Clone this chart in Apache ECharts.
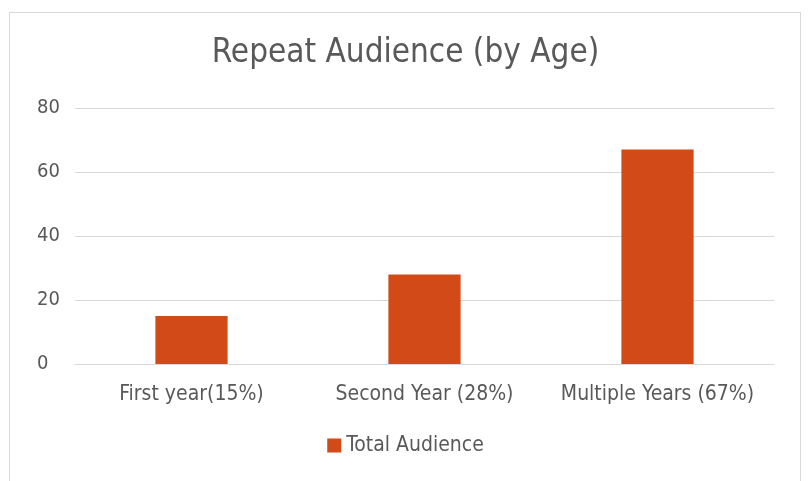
<!DOCTYPE html>
<html>
<head>
<meta charset="utf-8">
<script src="https://cdn.jsdelivr.net/npm/echarts@6/dist/echarts.min.js"></script>
<style>
  html, body { margin: 0; padding: 0; background: #fff; }
  #frame { position: absolute; left: 9px; top: 12px; width: 792px; height: 480px; border: 1px solid #d9d9d9; box-sizing: border-box; }
  #chart { position: absolute; left: 0; top: 0; width: 811px; height: 481px; }
</style>
</head>
<body>
<div id="frame"></div>
<div id="chart"></div>
<script>
// chart data
var categories = ['First year(15%)', 'Second Year (28%)', 'Multiple Years (67%)'];
var audience = [15, 28, 67];
var seriesName = 'Total Audience';

var textFont = '"DejaVu Sans Condensed", sans-serif';

var myChart = echarts.init(document.getElementById('chart'));
myChart.setOption({
    animation: false,
    title: {
        text: 'Repeat Audience (by Age)',
        left: 'center',
        top: 32,
        textStyle: { color: '#595959', fontSize: 33, fontWeight: 'normal', fontFamily: textFont }
    },
    grid: { left: 75, right: 37, top: 108, bottom: 117 },
    legend: {
        bottom: 20,
        left: 'center',
        itemWidth: 14,
        itemHeight: 14,
        icon: 'rect',
        itemGap: 6,
        textStyle: { color: '#595959', fontSize: 21, fontFamily: textFont }
    },
    xAxis: {
        type: 'category',
        data: categories,
        axisLine: { lineStyle: { color: '#d9d9d9', width: 1 } },
        axisTick: { show: false },
        axisLabel: { color: '#595959', fontSize: 21, fontFamily: textFont, margin: 20, interval: 0, hideOverlap: false }
    },
    yAxis: {
        type: 'value',
        min: 0,
        max: 80,
        interval: 20,
        axisLine: { show: false },
        axisTick: { show: false },
        splitLine: { lineStyle: { color: '#d9d9d9', width: 1 } },
        axisLabel: { color: '#595959', fontSize: 20, fontFamily: textFont, margin: 38, align: 'left' }
    },
    series: [{
        name: seriesName,
        type: 'bar',
        data: audience,
        barWidth: '31%',
        itemStyle: { color: '#D24A18' }
    }]
});
</script>
</body>
</html>
